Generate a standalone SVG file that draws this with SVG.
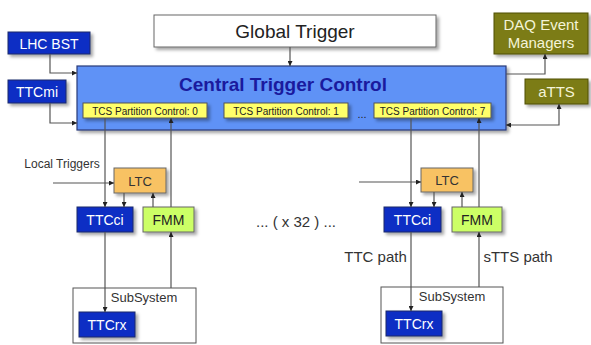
<svg xmlns="http://www.w3.org/2000/svg" width="591" height="345" viewBox="0 0 591 345">
<defs>
<filter id="sh" x="-20%" y="-20%" width="140%" height="160%">
<feDropShadow dx="2.5" dy="2.5" stdDeviation="1.5" flood-color="#000" flood-opacity="0.35"/>
</filter>
<marker id="ah" viewBox="0 0 10 10" refX="10" refY="5" markerWidth="5" markerHeight="5" orient="auto-start-reverse" markerUnits="userSpaceOnUse">
<path d="M0,0 L10,5 L0,10 z" fill="#222"/>
</marker>
</defs>
<style>
text{font-family:"Liberation Sans",Arial,sans-serif;text-anchor:middle}
.blue rect{fill:#0b2fc4;stroke:#1a2a6a;stroke-width:1;filter:url(#sh)}
.blue text{fill:#fff;font-size:14px}
.olive rect{fill:#7c7c14;stroke:#4e4e0a;stroke-width:1;filter:url(#sh)}
.olive text{fill:#f4f4d8;font-size:15px}
.tcs rect{fill:#ffff6a;stroke:#555;stroke-width:1;filter:url(#sh)}
.tcs text{fill:#222;font-size:10px}
.ltc rect{fill:#f8c264;stroke:#666;stroke-width:1;filter:url(#sh)}
.ltc text{fill:#333;font-size:13px}
.fmm rect{fill:#ccff66;stroke:#666;stroke-width:1;filter:url(#sh)}
.fmm text{fill:#222;font-size:14px}
.sub rect{fill:#fff;stroke:#555;stroke-width:1}
.sub text{fill:#333;font-size:13px}
.lbl{fill:#333}
#connectors path{fill:none;stroke:#555;stroke-width:1.2;marker-end:url(#ah)}
</style>

<g id="global-trigger">
<rect x="154" y="15" width="282" height="32" fill="#fff" stroke="#666" stroke-width="1" filter="url(#sh)"/>
<text x="295" y="38" font-size="19" fill="#222">Global Trigger</text>
</g>

<g id="ctc">
<rect x="77" y="66" width="429" height="64" fill="#5f92f6" stroke="#2a3a78" stroke-width="1.2" filter="url(#sh)"/>
<text x="283" y="91" font-size="19" font-weight="bold" fill="#1a1a9e">Central Trigger Control</text>
</g>

<g id="tcs0" class="tcs"><rect x="83" y="103" width="124" height="15"/><text x="145" y="114.5">TCS Partition Control: 0</text></g>
<g id="tcs1" class="tcs"><rect x="224" y="103" width="124" height="15"/><text x="286" y="114.5">TCS Partition Control: 1</text></g>
<g id="tcs-dots"><text x="362" y="118" font-size="11" fill="#222">...</text></g>
<g id="tcs7" class="tcs"><rect x="374" y="103" width="117" height="15"/><text x="432.5" y="114.5">TCS Partition Control: 7</text></g>

<g id="lhc-bst" class="blue"><rect x="8" y="32" width="82" height="22"/><text x="49" y="48.5" font-size="15">LHC BST</text></g>
<g id="ttcmi" class="blue"><rect x="8" y="80" width="58" height="23"/><text x="37" y="97" font-size="15">TTCmi</text></g>

<g id="daq" class="olive"><rect x="494" y="13" width="94" height="41"/><text x="541" y="30">DAQ Event</text><text x="541" y="48">Managers</text></g>
<g id="atts" class="olive"><rect x="525" y="79" width="63" height="25"/><text x="556.5" y="97">aTTS</text></g>

<g id="local-triggers"><text class="lbl" x="62" y="168" font-size="12">Local Triggers</text></g>

<g id="ltc-l" class="ltc"><rect x="114" y="168" width="52" height="25"/><text x="140" y="185.5">LTC</text></g>
<g id="ttcci-l" class="blue"><rect x="77" y="207" width="56" height="25"/><text x="105" y="224.5">TTCci</text></g>
<g id="fmm-l" class="fmm"><rect x="143" y="207" width="51" height="25"/><text x="168.5" y="224.5">FMM</text></g>
<g id="sub-l" class="sub"><rect x="73" y="288" width="123" height="55"/><text x="144" y="302">SubSystem</text></g>
<g id="ttcrx-l" class="blue"><rect x="79" y="312" width="56" height="25"/><text x="107" y="329.5">TTCrx</text></g>

<g id="x32"><text class="lbl" x="296" y="227" font-size="15">... ( x 32 ) ...</text></g>

<g id="ltc-r" class="ltc"><rect x="421" y="168" width="52" height="24"/><text x="447" y="185">LTC</text></g>
<g id="ttcci-r" class="blue"><rect x="384" y="207" width="57" height="25"/><text x="412.5" y="224.5">TTCci</text></g>
<g id="fmm-r" class="fmm"><rect x="452" y="207" width="50" height="25"/><text x="477" y="224.5">FMM</text></g>
<g id="sub-r" class="sub"><rect x="381" y="287" width="122" height="56"/><text x="452" y="301">SubSystem</text></g>
<g id="ttcrx-r" class="blue"><rect x="386" y="311" width="56" height="25"/><text x="414" y="328.5">TTCrx</text></g>

<g id="path-labels">
<text class="lbl" x="375.5" y="262" font-size="15">TTC path</text>
<text class="lbl" x="518" y="262" font-size="15">sTTS path</text>
</g>

<g id="connectors">
<path d="M50,54 V73 H77"/>
<path d="M50,103 V123 H77"/>
<path d="M290,47 V66"/>
<path d="M506,74 H545 V54"/>
<path d="M559,104 V125 H506" marker-start="url(#ah)"/>
<path d="M105,118 V207"/>
<path d="M124,193 V207"/>
<path d="M153,207 V193"/>
<path d="M171,207 V118"/>
<path d="M53,183 H114"/>
<path d="M105,232 V312"/>
<path d="M171,288 V232"/>
<path d="M411,118 V207"/>
<path d="M434,192 V207"/>
<path d="M462,207 V192"/>
<path d="M479,207 V118"/>
<path d="M359,182 H421"/>
<path d="M411,232 V311"/>
<path d="M479,287 V232"/>
</g>
</svg>
